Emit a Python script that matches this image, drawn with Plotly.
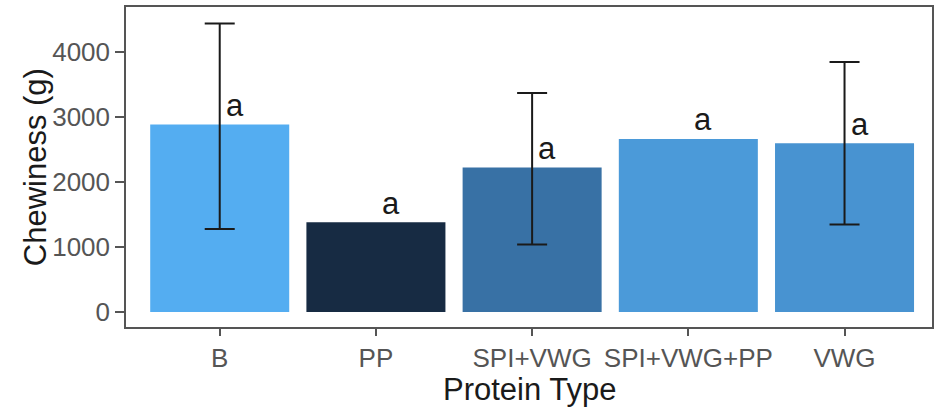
import plotly.graph_objects as go

categories = ["B", "PP", "SPI+VWG", "SPI+VWG+PP", "VWG"]
means = [2883, 1380, 2221, 2662, 2595]
err_upper = [4437, None, 3369, None, 3846]
err_lower = [1277, None, 1037, None, 1344]
letters = ["a", "a", "a", "a", "a"]
bar_colors = ["#54ADF1", "#172B43", "#3871A5", "#4B9AD9", "#4893D1"]
y_ticks = [0, 1000, 2000, 3000, 4000]

fig = go.Figure()
fig.add_trace(go.Bar(
    x=categories, y=means, width=0.89,
    marker=dict(color=bar_colors, line=dict(width=0)),
    showlegend=False,
))

ex, ey, eup, edn = [], [], [], []
for c, m, u, l in zip(categories, means, err_upper, err_lower):
    if u is None:
        continue
    ex.append(c); ey.append(m); eup.append(u - m); edn.append(m - l)

fig.add_trace(go.Scatter(
    x=ex, y=ey, mode="markers",
    marker=dict(size=1, opacity=0),
    error_y=dict(type="data", symmetric=False, array=eup, arrayminus=edn,
                 color="#1a1a1a", thickness=2, width=15),
    showlegend=False, hoverinfo="skip",
))

for c, m, t in zip(categories, means, letters):
    fig.add_annotation(x=c, y=m, text=t, showarrow=False,
                       xshift=15, yshift=19, xanchor="center", yanchor="middle",
                       font=dict(family="Liberation Sans", size=31, color="#1a1a1a"))

fig.add_annotation(text="Chewiness (g)", xref="paper", yref="paper",
                   x=(35 - 126) / 808, y=0.5, textangle=-90, showarrow=False,
                   xanchor="center", yanchor="middle",
                   font=dict(family="Liberation Sans", size=31, color="#1a1a1a"))
fig.add_annotation(text="Protein Type", xref="paper", yref="paper",
                   x=0.5, y=(326.7 - 389) / 320, showarrow=False,
                   xanchor="center", yanchor="middle",
                   font=dict(family="Liberation Sans", size=31, color="#1a1a1a"))

fig.update_layout(
    width=935, height=413,
    margin=dict(l=126, r=1, t=7, b=86),
    paper_bgcolor="white", plot_bgcolor="white",
    font=dict(family="Liberation Sans"),
    xaxis=dict(range=[-0.6, 4.56], showline=True, mirror=True, linecolor="#555555",
               linewidth=1.5, ticks="outside", ticklen=7, tickwidth=1.5,
               tickcolor="#555555", showgrid=False, zeroline=False,
               tickfont=dict(size=26, color="#555555")),
    yaxis=dict(range=[-231, 4692], tickvals=y_ticks, showline=True, mirror=True,
               linecolor="#555555", linewidth=1.5, ticks="outside", ticklen=9,
               tickwidth=1.5, tickcolor="#555555", showgrid=False, zeroline=False,
               tickfont=dict(size=26, color="#555555")),
)

fig.write_html("out.html")
